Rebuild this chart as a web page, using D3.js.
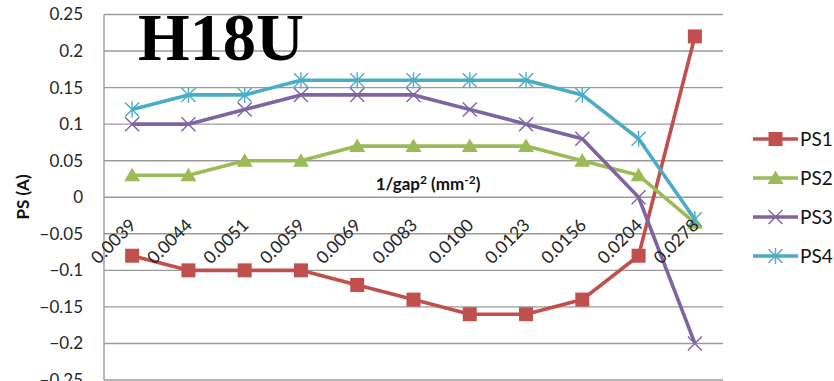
<!DOCTYPE html>
<html>
<head>
<meta charset="utf-8">
<script src="https://cdn.jsdelivr.net/npm/d3@7"></script>
<style>
  html, body { margin: 0; padding: 0; background: #fff; }
  svg { display: block; }
</style>
</head>
<body>
<svg id="chart" width="834" height="381"></svg>
<script>
// 1/gap^2 categories (mm^-2)
const categories = ["0.0039", "0.0044", "0.0051", "0.0059", "0.0069", "0.0083",
                    "0.0100", "0.0123", "0.0156", "0.0204", "0.0278"];
// PS currents (A) per category
const ps1 = [-0.08, -0.10, -0.10, -0.10, -0.12, -0.14, -0.16, -0.16, -0.14, -0.08, 0.22];
const ps2 = [0.03, 0.03, 0.05, 0.05, 0.07, 0.07, 0.07, 0.07, 0.05, 0.03, -0.035];
const ps3 = [0.10, 0.10, 0.12, 0.14, 0.14, 0.14, 0.12, 0.10, 0.08, 0.00, -0.20];
const ps4 = [0.12, 0.14, 0.14, 0.16, 0.16, 0.16, 0.16, 0.16, 0.14, 0.08, -0.03];
const seriesNames = ["PS1", "PS2", "PS3", "PS4"];
const yTicks = [0.25, 0.2, 0.15, 0.1, 0.05, 0, -0.05, -0.1, -0.15, -0.2, -0.25];

const series = [
  { name: seriesNames[0], values: ps1, color: "#C0504D", marker: "square" },
  { name: seriesNames[1], values: ps2, color: "#9BBB59", marker: "triangle" },
  { name: seriesNames[2], values: ps3, color: "#8064A2", marker: "x" },
  { name: seriesNames[3], values: ps4, color: "#4BACC6", marker: "star" }
];

const svg = d3.select("#chart");
const plot = { left: 104, right: 723, top: 14.5, bottom: 380 };
const font = "Lato, 'Open Sans', 'Liberation Sans', sans-serif";

const x = d3.scaleBand().domain(categories).range([plot.left, plot.right]).padding(0);
const cx = c => x(c) + x.bandwidth() / 2;
const y = d3.scaleLinear().domain([-0.25, 0.25]).range([plot.bottom, plot.top]);

// horizontal gridlines
svg.append("g")
  .selectAll("line")
  .data(yTicks)
  .join("line")
  .attr("x1", plot.left).attr("x2", plot.right)
  .attr("y1", d => y(d)).attr("y2", d => y(d))
  .attr("stroke", "#9a9a9a").attr("stroke-width", 1.4);

// vertical value axis line
svg.append("line")
  .attr("x1", plot.left).attr("x2", plot.left)
  .attr("y1", plot.top).attr("y2", plot.bottom)
  .attr("stroke", "#9a9a9a").attr("stroke-width", 1.4);

// value axis labels
const yAxis = d3.axisLeft(y).tickValues(yTicks).tickSize(0).tickPadding(0)
  .tickFormat(d => d === 0 ? "0" : d3.format("")(+d.toFixed(2)));
const yg = svg.append("g").attr("transform", "translate(83,0)").call(yAxis);
yg.select(".domain").remove();
yg.selectAll("text")
  .attr("font-family", font).attr("font-size", 17).attr("fill", "#262626");

// value axis title
svg.append("text")
  .attr("transform", "translate(29,197) rotate(-90)")
  .attr("text-anchor", "middle")
  .attr("font-family", font).attr("font-weight", "bold").attr("font-size", 17)
  .attr("fill", "#111")
  .text("PS (A)");

// category axis title
const xt = svg.append("text")
  .attr("x", 428).attr("y", 190)
  .attr("text-anchor", "middle")
  .attr("font-family", font).attr("font-weight", "bold").attr("font-size", 17)
  .attr("fill", "#111");
xt.append("tspan").text("1/gap");
xt.append("tspan").attr("dy", -6).attr("font-size", 12).text("2");
xt.append("tspan").attr("dy", 6).text(" (mm");
xt.append("tspan").attr("dy", -6).attr("font-size", 12).text("-2");
xt.append("tspan").attr("dy", 6).text(")");

// marker shapes
function drawMarker(g, type, color) {
  if (type === "square") {
    g.append("rect").attr("x", -7).attr("y", -7).attr("width", 14).attr("height", 14)
      .attr("fill", color);
  } else if (type === "triangle") {
    g.append("path").attr("d", "M0,-7.5L8,6L-8,6Z").attr("fill", color);
  } else if (type === "x") {
    g.append("path").attr("d", "M-7,-7L7,7M-7,7L7,-7")
      .attr("stroke", color).attr("stroke-width", 1.4).attr("fill", "none");
  } else if (type === "star") {
    g.append("path").attr("d", "M-7,-7L7,7M-7,7L7,-7M0,-8L0,8")
      .attr("stroke", color).attr("stroke-width", 1.4).attr("fill", "none");
  }
}

const line = d3.line().x((d, i) => cx(categories[i])).y(d => y(d));

const lineLayer = svg.append("g");
series.forEach(s => {
  const g = lineLayer.append("g");
  g.append("path")
    .attr("d", line(s.values))
    .attr("fill", "none")
    .attr("stroke", s.color)
    .attr("stroke-width", 3.6)
    .attr("stroke-linejoin", "round");
  s.values.forEach((v, i) => {
    const m = g.append("g").attr("transform", `translate(${cx(categories[i])},${y(v)})`);
    drawMarker(m, s.marker, s.color);
  });
});

// category labels, rotated
svg.append("g")
  .selectAll("text")
  .data(categories)
  .join("text")
  .attr("transform", d => `translate(${cx(d) + 5},${y(0) + 29}) rotate(-45)`)
  .attr("text-anchor", "end")
  .attr("font-family", font).attr("font-size", 17.5).attr("fill", "#262626")
  .text(d => d);

// legend
const legend = svg.append("g");
series.forEach((s, i) => {
  const ly = 139 + i * 39;
  const g = legend.append("g");
  g.append("line").attr("x1", 753).attr("x2", 798).attr("y1", ly).attr("y2", ly)
    .attr("stroke", s.color).attr("stroke-width", 3.6);
  const m = g.append("g").attr("transform", `translate(775.5,${ly})`);
  drawMarker(m, s.marker, s.color);
  g.append("text").attr("x", 800).attr("y", ly).attr("dy", "0.36em")
    .attr("font-family", font).attr("font-size", 19).attr("fill", "#111")
    .text(s.name);
});

// chart title
svg.append("text")
  .attr("x", 138).attr("y", 60)
  .attr("font-family", "'Liberation Serif', 'Times New Roman', serif")
  .attr("font-weight", "bold").attr("font-size", 68)
  .attr("textLength", 166).attr("lengthAdjust", "spacingAndGlyphs")
  .attr("fill", "#000")
  .text("H18U");
</script>
</body>
</html>
